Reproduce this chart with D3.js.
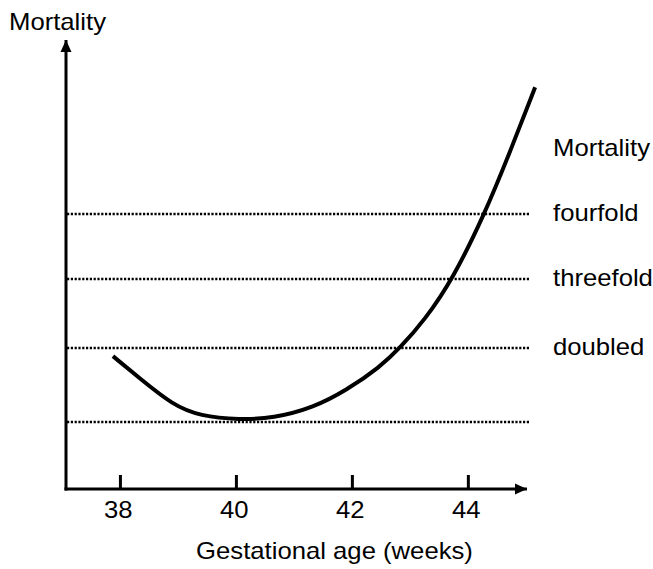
<!DOCTYPE html>
<html>
<head>
<meta charset="utf-8">
<title>Mortality by gestational age</title>
<style>
  html, body { margin: 0; padding: 0; background: #fff; }
  text { font-family: 'Liberation Sans', Arial, sans-serif; font-size: 24px; fill: #000; }
  .x_axis path { display: none; }
  .x_axis line { stroke: #000; stroke-width: 3; }
</style>
<script src="https://d3js.org/d3.v7.min.js"></script>
</head>
<body>
<div id="chart"></div>
<script>
// curve: gestational age (weeks) and relative mortality
var weeks     = [37.88, 38.34, 38.91, 39.38, 40.07, 40.64, 41.33, 41.91, 42.48, 42.83, 43.26, 43.74, 44.29, 44.72, 45.16];
var mortality = [1.89,  1.59,  1.23,  1.08,  1.03,  1.05,  1.19,  1.43,  1.74,  2.00,  2.41,  3.00,  4.00,  4.94,  5.95];

var tick_weeks = [38, 40, 42, 44];
var levels = [1, 2, 3, 4];
var level_labels = ["", "doubled", "threefold", "fourfold"];
var level_title = "Mortality";
var x_title = "Gestational age (weeks)";
var y_title = "Mortality";

var width = 653, height = 569;
var stretch = 1.07;   // the lettering in the picture is a bit wider than Arial

var svg = d3.select("#chart")
            .append("svg")
            .attr("width", width)
            .attr("height", height);

// the reference lines are not evenly spaced in the drawing
var scale_x = d3.scaleLinear().domain([37.07, 45.02]).range([66, 527]);
var scale_y = d3.scaleLinear().domain([0, 1, 2, 3, 4]).range([489, 422, 348, 279, 214]);

var axis_top = 40;
var line_right = 530;
var label_x = 553;

function put_text(x, y, str, anchor) {
  return svg.append("text")
            .attr("transform", "translate(" + x + "," + y + ") scale(" + stretch + ",1)")
            .attr("text-anchor", anchor || "start")
            .text(str);
}

svg.append("defs").append("marker")
   .attr("id", "arrow")
   .attr("viewBox", "0 0 12 12")
   .attr("refX", 12)
   .attr("refY", 6)
   .attr("markerWidth", 12)
   .attr("markerHeight", 12)
   .attr("markerUnits", "userSpaceOnUse")
   .attr("orient", "auto")
   .append("path")
   .attr("d", "M0,0.5 L12,6 L0,11.5 Z")
   .attr("fill", "#000");

// dotted reference levels
svg.selectAll(".levels")
   .data(levels)
   .enter()
   .append("line")
   .attr("class", "levels")
   .attr("x1", scale_x.range()[0] + 1)
   .attr("x2", line_right)
   .attr("y1", function(d) { return scale_y(d); })
   .attr("y2", function(d) { return scale_y(d); })
   .attr("stroke", "#000")
   .attr("stroke-width", 2.5)
   .attr("stroke-dasharray", "2.2,1.6");

levels.forEach(function(d, i) {
  if (level_labels[i]) put_text(label_x, scale_y(d) + 7, level_labels[i]);
});

put_text(label_x, scale_y(4) - 58, level_title);

// x axis: ticks point up into the plot
var x_axis = d3.axisBottom(scale_x)
               .tickValues(tick_weeks)
               .tickSize(-14)
               .tickSizeOuter(0)
               .tickPadding(12);

var gx = svg.append("g")
            .attr("class", "x_axis")
            .attr("transform", "translate(0," + scale_y(0) + ")")
            .call(x_axis);

gx.selectAll("text")
  .attr("fill", "#000")
  .style("font-size", "24px")
  .style("font-family", "'Liberation Sans', Arial, sans-serif")
  .attr("dx", "-2")
  .attr("transform", "scale(" + stretch + ",1)");

// axis lines with arrow heads
svg.append("line")
   .attr("x1", scale_x.range()[0] - 1.5)
   .attr("x2", scale_x.range()[1])
   .attr("y1", scale_y(0))
   .attr("y2", scale_y(0))
   .attr("stroke", "#000")
   .attr("stroke-width", 3)
   .attr("marker-end", "url(#arrow)");

svg.append("line")
   .attr("x1", scale_x.range()[0])
   .attr("x2", scale_x.range()[0])
   .attr("y1", scale_y(0) + 1.5)
   .attr("y2", axis_top)
   .attr("stroke", "#000")
   .attr("stroke-width", 3)
   .attr("marker-end", "url(#arrow)");

// the curve
var line = d3.line()
             .x(function(d) { return scale_x(d[0]); })
             .y(function(d) { return scale_y(d[1]); })
             .curve(d3.curveBasis);

svg.append("path")
   .datum(d3.zip(weeks, mortality))
   .attr("d", line)
   .attr("fill", "none")
   .attr("stroke", "#000")
   .attr("stroke-width", 4);

// titles
put_text(9, 30, y_title);
put_text((scale_x.range()[0] + scale_x.range()[1]) / 2 + 38, 559, x_title, "middle");
</script>
</body>
</html>
